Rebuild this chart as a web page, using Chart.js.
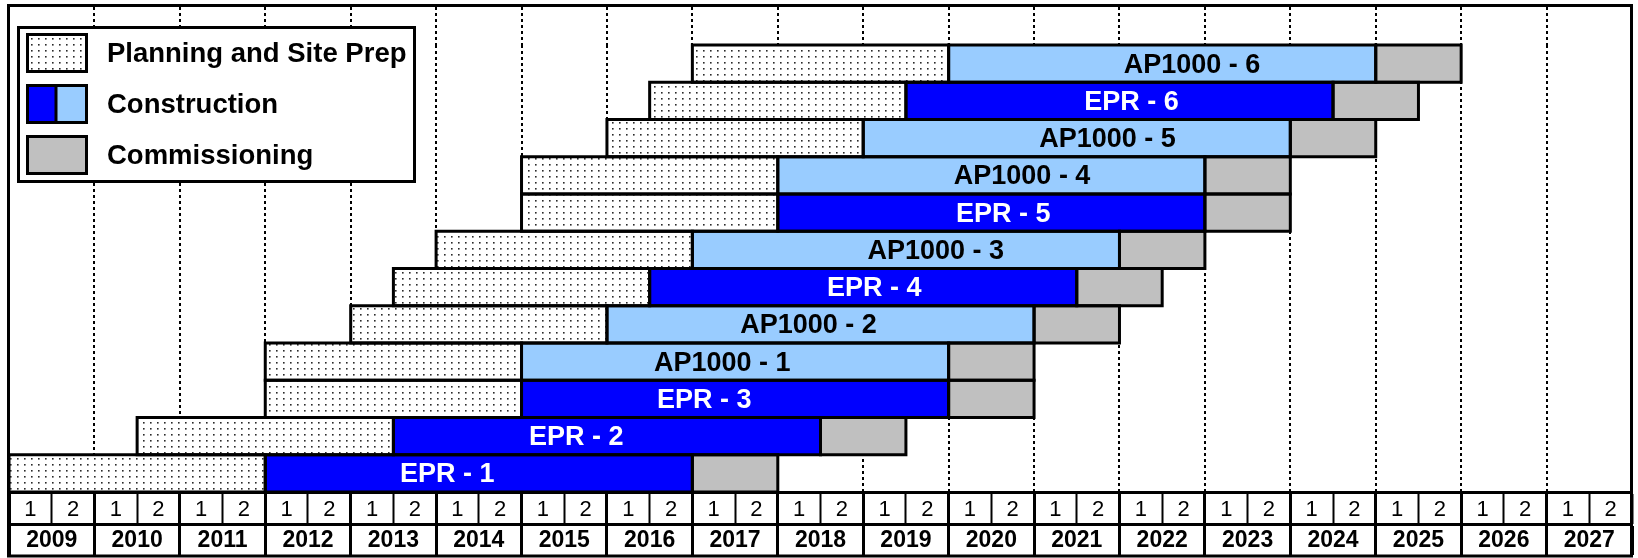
<!DOCTYPE html>
<html>
<head>
<meta charset="utf-8">
<title>New build programme</title>
<script src="https://cdn.jsdelivr.net/npm/chart.js@4.4.1/dist/chart.umd.min.js"></script>
<style>
  html, body { margin: 0; padding: 0; background: #fff; }
  #wrap { width: 1638px; height: 558px; }
</style>
</head>
<body>
<div id="wrap"><canvas id="myChart" width="1638" height="558"></canvas></div>
<script>
// rows, from the bottom of the chart up
const units = ['EPR - 1', 'EPR - 2', 'EPR - 3', 'AP1000 - 1', 'AP1000 - 2', 'EPR - 4',
               'AP1000 - 3', 'EPR - 5', 'AP1000 - 4', 'AP1000 - 5', 'EPR - 6', 'AP1000 - 6'];
const planStart  = [2009, 2010.5, 2012, 2012, 2013, 2013.5, 2014, 2015, 2015, 2016, 2016.5, 2017];
const buildStart = [2012, 2013.5, 2015, 2015, 2016, 2016.5, 2017, 2018, 2018, 2019, 2019.5, 2020];
const commStart  = [2017, 2018.5, 2020, 2020, 2021, 2021.5, 2022, 2023, 2023, 2024, 2024.5, 2025];
const commEnd    = [2018, 2019.5, 2021, 2021, 2022, 2022.5, 2023, 2024, 2024, 2025, 2025.5, 2026];
// where the unit name sits along the bar (in years)
const labelAt    = [2014.13, 2015.64, 2017.14, 2017.35, 2018.36, 2019.13,
                    2019.85, 2020.64, 2020.86, 2021.86, 2022.14, 2022.85];

// axis rows
const years = ['2009', '2010', '2011', '2012', '2013', '2014', '2015', '2016', '2017', '2018',
               '2019', '2020', '2021', '2022', '2023', '2024', '2025', '2026', '2027'];
const halves = years.flatMap(() => ['1', '2']);

const eprBlue = '#0000ff';
const apBlue = '#99ccff';
const commGrey = '#c0c0c0';
const FONT = "'Liberation Sans', Arial, sans-serif";

Chart.defaults.font.family = FONT;
Chart.defaults.color = '#000';

// dotted fill for planning phase
function makeDots() {
    const c = document.createElement('canvas');
    c.width = 7;
    c.height = 6;
    const g = c.getContext('2d');
    g.fillStyle = '#fff';
    g.fillRect(0, 0, 7, 6);
    g.fillStyle = '#2a2a2a';
    g.fillRect(3, 2, 1.6, 1.6);
    return g.createPattern(c, 'repeat');
}
const dots = makeDots();

const scheduleDecor = {
    id: 'scheduleDecor',
    beforeDatasetsDraw(chart) {
        // carry the year gridlines up to the top frame
        const xs = chart.scales.x;
        const ctx = chart.ctx;
        ctx.save();
        ctx.strokeStyle = '#000';
        ctx.lineWidth = 2;
        ctx.setLineDash([3, 3]);
        xs.ticks.forEach(t => {
            if (t.value <= xs.min || t.value >= xs.max) return;
            const px = Math.round(xs.getPixelForValue(t.value));
            ctx.beginPath();
            ctx.moveTo(px, 7);
            ctx.lineTo(px, chart.chartArea.top);
            ctx.stroke();
        });
        ctx.restore();
    },
    afterDatasetsDraw(chart) {
        const ctx = chart.ctx;
        ctx.save();
        // black outline round every phase
        ctx.strokeStyle = '#000';
        ctx.lineWidth = 3;
        chart.data.datasets.forEach((ds, d) => {
            chart.getDatasetMeta(d).data.forEach(el => {
                const { x, y, base, height } = el.getProps(['x', 'y', 'base', 'height'], true);
                ctx.strokeRect(Math.min(x, base), y - height / 2, Math.abs(x - base), height);
            });
        });
        // unit names on the construction bars
        const xs = chart.scales.x;
        const build = chart.getDatasetMeta(1).data;
        ctx.font = 'bold 27px ' + FONT;
        ctx.textAlign = 'center';
        ctx.textBaseline = 'middle';
        units.forEach((name, i) => {
            ctx.fillStyle = name.startsWith('EPR') ? '#fff' : '#000';
            ctx.fillText(name, xs.getPixelForValue(labelAt[i]), build[i].y + 1.5);
        });
        ctx.restore();
    },
    afterDraw(chart) {
        const ctx = chart.ctx;
        ctx.save();
        ctx.lineWidth = 3;
        ctx.strokeStyle = '#000';
        // legend box
        ctx.fillStyle = '#fff';
        ctx.fillRect(18.5, 27.5, 396, 154);
        ctx.strokeRect(18.5, 27.5, 396, 154);
        chart.data.datasets.forEach((ds, i) => {
            const top = 34.5 + i * 51;
            const left = 27.5, w = 59, h = 37;
            if (Array.isArray(ds.backgroundColor)) {
                // construction swatch shows both reactor colours
                ctx.fillStyle = eprBlue;
                ctx.fillRect(left, top, w / 2, h);
                ctx.fillStyle = apBlue;
                ctx.fillRect(left + w / 2, top, w / 2, h);
                ctx.beginPath();
                ctx.moveTo(left + w / 2 - 1, top);
                ctx.lineTo(left + w / 2 - 1, top + h);
                ctx.stroke();
            } else {
                ctx.fillStyle = ds.backgroundColor;
                ctx.fillRect(left, top, w, h);
            }
            ctx.strokeRect(left, top, w, h);
            ctx.fillStyle = '#000';
            ctx.font = 'bold 27.5px ' + FONT;
            ctx.textAlign = 'left';
            ctx.textBaseline = 'middle';
            ctx.fillText(ds.label, 107, top + h / 2 + 1);
        });
        // outer frame
        ctx.strokeRect(8.5, 5.5, 1623, 550.5);
        ctx.restore();
    }
};

const chart = new Chart(document.getElementById('myChart'), {
    type: 'bar',
    data: {
        labels: units,
        datasets: [{
            label: 'Planning and Site Prep',
            data: units.map((u, i) => [planStart[i], buildStart[i]]),
            backgroundColor: dots
        }, {
            label: 'Construction',
            data: units.map((u, i) => [buildStart[i], commStart[i]]),
            backgroundColor: units.map(u => u.startsWith('EPR') ? eprBlue : apBlue)
        }, {
            label: 'Commissioning',
            data: units.map((u, i) => [commStart[i], commEnd[i]]),
            backgroundColor: commGrey
        }]
    },
    options: {
        indexAxis: 'y',
        responsive: false,
        animation: false,
        events: [],
        layout: { padding: { left: 9, right: 6, top: 45, bottom: 3 } },
        datasets: {
            bar: { grouped: false, barPercentage: 1, categoryPercentage: 1, borderWidth: 0 }
        },
        plugins: {
            legend: { display: false },
            tooltip: { enabled: false }
        },
        scales: {
            x: {
                type: 'linear',
                min: 2009,
                max: 2028,
                weight: 0,
                ticks: { display: false, stepSize: 1 },
                grid: { color: '#000', lineWidth: 2, drawTicks: false },
                border: { display: false, dash: [3, 3] }
            },
            half: {
                type: 'category',
                axis: 'x',
                position: 'bottom',
                labels: halves,
                offset: true,
                weight: 1,
                grid: {
                    offset: true,
                    drawOnChartArea: false,
                    tickLength: 32,
                    tickColor: '#000',
                    tickWidth: ctx => (ctx.index % 2 === 0 ? 3 : 2)
                },
                border: { display: true, color: '#000', width: 3 },
                ticks: { autoSkip: false, maxRotation: 0, padding: -27, font: { size: 22 } },
                afterFit: s => { s.height = 32; }
            },
            year: {
                type: 'category',
                axis: 'x',
                position: 'bottom',
                labels: years,
                offset: true,
                weight: 2,
                grid: {
                    offset: true,
                    drawOnChartArea: false,
                    tickLength: 31,
                    tickColor: '#000',
                    tickWidth: 3
                },
                border: { display: true, color: '#000', width: 3 },
                ticks: { autoSkip: false, maxRotation: 0, padding: -28, font: { size: 23, weight: 'bold' } },
                afterFit: s => { s.height = 31; }
            },
            y: {
                type: 'category',
                reverse: true,
                display: false
            }
        }
    },
    plugins: [scheduleDecor]
});
</script>
</body>
</html>
